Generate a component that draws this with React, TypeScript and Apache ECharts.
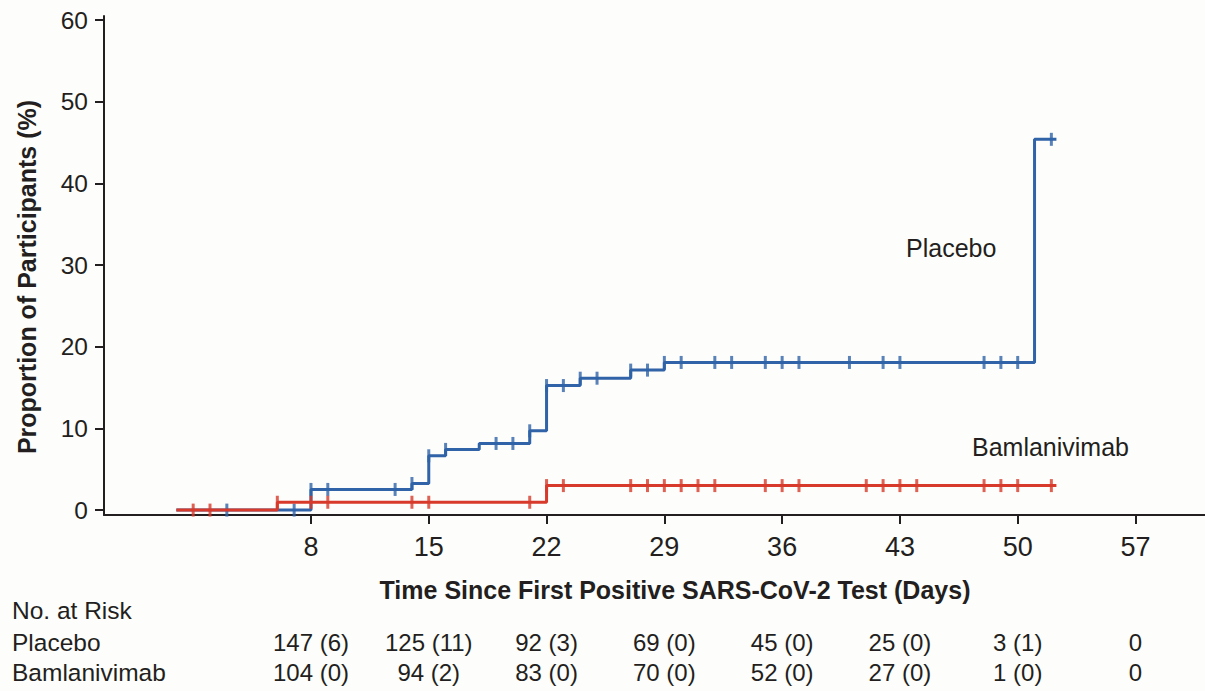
import React, { useEffect, useRef } from 'react';
import * as echarts from 'echarts';

const xTicks = [8, 15, 22, 29, 36, 43, 50, 57];
const yTicks = [0, 10, 20, 30, 40, 50, 60];

// Step functions [day, cumulative %]
const placeboSteps: number[][] = [
  [0, 0], [8, 2.53], [14, 3.26], [15, 6.65], [16, 7.43], [18, 8.16], [21, 9.71],
  [22, 15.25], [24, 16.15], [27, 17.14], [29, 18.08], [51, 45.4], [52.3, 45.4],
];
const bamSteps: number[][] = [[0, 0], [6, 0.96], [22, 3.0], [52.3, 3.0]];

const placeboCensorDays = [3, 7, 8, 9, 13, 14, 15, 16, 19, 20, 21, 22, 23, 24, 25, 27, 28, 29, 30, 32, 33, 35, 36, 37, 40, 42, 43, 48, 49, 50, 52];
const bamCensorDays = [1, 2, 6, 8, 9, 14, 15, 21, 22, 23, 27, 28, 29, 30, 31, 32, 35, 36, 37, 41, 42, 43, 44, 48, 49, 50, 52];

const riskDays = [8, 15, 22, 29, 36, 43, 50, 57];
const placeboRisk = ['147 (6)', '125 (11)', '92 (3)', '69 (0)', '45 (0)', '25 (0)', '3 (1)', '0'];
const bamRisk = ['104 (0)', '94 (2)', '83 (0)', '70 (0)', '52 (0)', '27 (0)', '1 (0)', '0'];

const BLUE = '#3063a8';
const RED = '#d73a2a';
const TXT = '#231f20';
const FONT = '"Liberation Sans", Arial, sans-serif';

function levelAt(steps: number[][], d: number): number {
  let v = steps[0][1];
  for (const [x, y] of steps) {
    if (x <= d) v = y;
  }
  return v;
}

function txt(text: string, x: number, y: number, size: number, opts: any = {}) {
  return {
    type: 'text',
    x,
    y,
    rotation: opts.rotation || 0,
    silent: true,
    style: {
      text,
      fill: TXT,
      font: `${opts.bold ? 'bold ' : ''}${size}px ${FONT}`,
      align: opts.align || 'left',
      verticalAlign: 'middle',
      textAlign: opts.align || 'left',
      textVerticalAlign: 'middle',
    },
  };
}

export default function App() {
  const ref = useRef<HTMLDivElement>(null);
  useEffect(() => {
    if (!ref.current) return;
    const chart = echarts.init(ref.current, null, { renderer: 'svg' });
    const option: any = {
      animation: false,
      backgroundColor: '#fdfdfb',
      grid: { left: 104, top: 16, width: 1101, height: 499 },
      xAxis: {
        type: 'value',
        min: -4.3,
        max: 61.13,
        axisLine: { onZero: false, lineStyle: { color: TXT, width: 2 } },
        axisTick: { customValues: xTicks, length: 9, lineStyle: { color: TXT, width: 2 } },
        axisLabel: { customValues: xTicks, fontSize: 27, margin: 18, color: TXT, fontFamily: FONT },
        splitLine: { show: false },
      },
      yAxis: {
        type: 'value',
        min: -0.6,
        max: 60.5,
        axisLine: { show: true, onZero: false, lineStyle: { color: TXT, width: 2 } },
        axisTick: { show: true, customValues: yTicks, length: 9, lineStyle: { color: TXT, width: 2 } },
        axisLabel: { customValues: yTicks, fontSize: 24.5, margin: 16, color: TXT, fontFamily: FONT },
        splitLine: { show: false },
      },
      series: [
        {
          type: 'line',
          step: 'end',
          data: placeboSteps,
          showSymbol: false,
          symbol: 'none',
          lineStyle: { color: BLUE, width: 3 },
          z: 2,
        },
        {
          type: 'scatter',
          data: placeboCensorDays.map((d) => [d, levelAt(placeboSteps, d)]),
          symbol: 'rect',
          symbolSize: [3, 13],
          itemStyle: { color: BLUE },
          z: 3,
        },
        {
          type: 'line',
          step: 'end',
          data: bamSteps,
          showSymbol: false,
          symbol: 'none',
          lineStyle: { color: RED, width: 3 },
          z: 4,
        },
        {
          type: 'scatter',
          data: bamCensorDays.map((d) => [d, levelAt(bamSteps, d)]),
          symbol: 'rect',
          symbolSize: [3, 13],
          itemStyle: { color: RED },
          z: 5,
        },
        {
          type: 'custom',
          coordinateSystem: 'cartesian2d',
          clip: false,
          silent: true,
          data: riskDays.map((d, i) => [d, i]),
          encode: { x: 0, y: 1 },
          renderItem: (params: any, api: any) => {
            const i = api.value(1);
            const x = api.coord([api.value(0), 0])[0];
            return {
              type: 'group',
              children: [
                txt(placeboRisk[i], x, 642, 24, { align: 'center' }),
                txt(bamRisk[i], x, 672, 24, { align: 'center' }),
              ],
            };
          },
        },
      ],
      graphic: [
        txt('Proportion of Participants (%)', 27, 277, 25, { bold: true, align: 'center', rotation: Math.PI / 2 }),
        txt('Time Since First Positive SARS-CoV-2 Test (Days)', 675, 590, 25, { bold: true, align: 'center' }),
        txt('No. at Risk', 12, 610, 24.5),
        txt('Placebo', 12, 642, 24.5),
        txt('Bamlanivimab', 12, 672, 24.5),
        txt('Placebo', 906, 248, 25),
        txt('Bamlanivimab', 972, 447, 25),
      ],
    };
    chart.setOption(option);
    return () => chart.dispose();
  }, []);
  return (
    <div
      ref={ref}
      style={{ position: 'absolute', left: 0, top: 0, width: 1205, height: 691 }}
    />
  );
}
